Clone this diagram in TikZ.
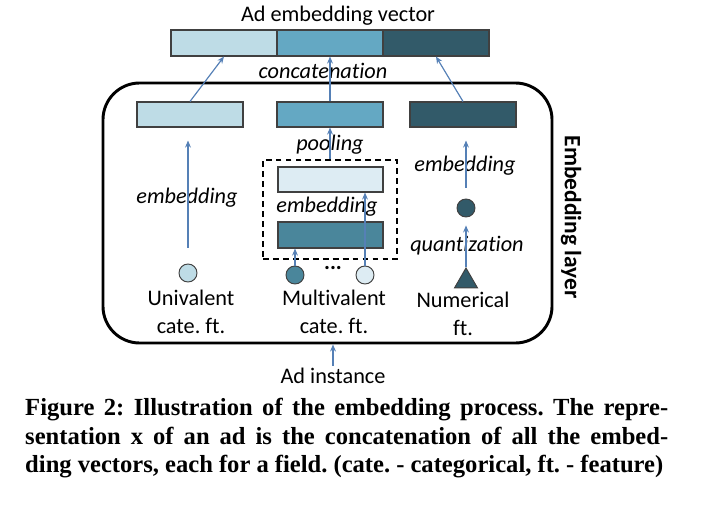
\documentclass[tikz,border=0pt]{standalone}
\usepackage{fontspec}
\setmainfont[Ligatures=NoCommon]{Carlito}
\newfontfamily\capfont{Liberation Serif}
\usetikzlibrary{positioning, shapes.geometric, arrows.meta}
\definecolor{vlight}{RGB}{221,236,243}
\definecolor{light}{RGB}{190,220,230}
\definecolor{mid}{RGB}{100,168,195}
\definecolor{mdark}{RGB}{74,134,155}
\definecolor{dark}{RGB}{50,90,105}
\definecolor{arrowblue}{RGB}{85,128,182}
\tikzset{vec/.style={draw=black!75, line width=0.9pt, minimum width=3.18cm, minimum height=0.75cm, inner sep=0pt}}

\begin{document}
\frenchspacing
\begin{tikzpicture}[
		x=0.03cm, y=-0.03cm,
		font=\fontsize{19}{24.5}\selectfont,
		dot/.style={draw=black!75, circle, line width=0.8pt, minimum size=0.54cm, inner sep=0pt},
		lbl/.style={font=\fontsize{19}{24.5}\selectfont\itshape},
		arrow/.style={->, >={Stealth[length=6pt, width=5pt]}, draw=arrowblue, fill=arrowblue, line width=1pt},
		capline/.style={anchor=base west, inner sep=0pt, font=\capfont\bfseries\fontsize{21}{25}\selectfont}
		]
		\useasboundingbox (0,0) rectangle (722,514);
		
		% Ad embedding vector
		\node (title) at (338,16) {Ad embedding vector};
		\node[vec, fill=light, minimum height=0.78cm] (tl) at (224,43) {};
		\node[vec, fill=mid, minimum height=0.78cm] (tm) at (330,43) {};
		\node[vec, fill=dark, minimum height=0.78cm] (tr) at (436,43) {};
		\node[lbl] (concat) at (323,71) {concatenation};
		
		% Embedding layer
		\node[draw, line width=2.5pt, rounded corners=1.1cm, minimum width=13.47cm, minimum height=7.8cm] (layer) at (327.5,213) {};
		\node[rotate=-90, font=\fontsize{20}{24}\selectfont\bfseries] (layername) at (571,217) {Embedding layer};
		
		\node[vec, fill=light] (el) at (190,114.5) {};
		\node[vec, fill=mid] (em) at (330,114.5) {};
		\node[vec, fill=dark] (er) at (463,114.5) {};
		
		% univalent
		\node[dot, fill=light] (cu) at (188,273) {};
		\node[lbl] (embl) at (187,198) {embedding};
		\node[align=center] (univ) at (191,312) {Univalent\\cate. ft.};
		
		% multivalent
		\node[draw, dashed, line width=1.6pt, dash pattern=on 5pt off 3.5pt, minimum width=4.02cm, minimum height=2.97cm] (pool) at (330,209.5) {};
		\node[vec, fill=vlight, minimum width=3.15cm] (ml) at (330.5,179.5) {};
		\node[vec, fill=mdark, minimum width=3.15cm, minimum height=0.78cm] (md) at (330.5,235) {};
		\node[lbl] (poolname) at (330,145) {pooling};
		\node[lbl] (embm) at (327,207) {embedding};
		\node[dot, fill=mdark] (cd) at (295,275) {};
		\node[dot, fill=vlight] (cl) at (365,275) {};
		\node[font=\fontsize{19}{24.5}\selectfont\bfseries] (dots) at (333,268) {...};
		\node[align=center] (multi) at (334,312) {Multivalent\\cate. ft.};
		
		% numerical
		\node[draw=black!75, line width=0.8pt, fill=dark, regular polygon, regular polygon sides=3, minimum size=0.8cm, inner sep=0pt] (tri) at (466,281.3) {};
		\node[dot, fill=dark] (cn) at (466,208) {};
		\node[lbl] (embr) at (465,166) {embedding};
		\node[lbl] (quant) at (467,246) {quantization};
		\node[align=center] (num) at (463,314) {Numerical\\ft.};
		
		\node (inst) at (333,376) {Ad instance};
		
		\draw[arrow] (el.north) -- (tl.south);
		\draw[arrow] (em.north) -- (tm.south);
		\draw[arrow] (er.north) -- (tr.south);
		\draw[arrow, shorten <=0.48cm, shorten >=0.39cm] (cu.north) -- (cu |- el.south);
		\draw[arrow] (pool.north) -- (em.south);
		\draw[arrow] (cd.north) -- (cd |- md.south);
		\draw[arrow] (cl.north) -- (cl |- ml.south);
		\draw[arrow, shorten >=0.24cm] (tri.north) -- (cn.south);
		\draw[arrow, shorten <=0.33cm, shorten >=0.39cm] (cn.north) -- (cn |- er.south);
		\draw[arrow, shorten <=0.3cm] (inst.center) -- (inst |- layer.south);
		
		% caption
		\node[capline] (cap1) at (25,416) {\makebox[19.29cm][s]{Figure 2: Illustration of the embedding process. The repre-}};
		\node[capline] (cap2) at (25,445) {\makebox[19.29cm][s]{sentation x of an ad is the concatenation of all the embed-}};
		\node[capline] (cap3) at (25,473) {\makebox[19.14cm][s]{ding vectors, each for a field. (cate. - categorical, ft. - feature)}};
		
	\end{tikzpicture}
\end{document}
